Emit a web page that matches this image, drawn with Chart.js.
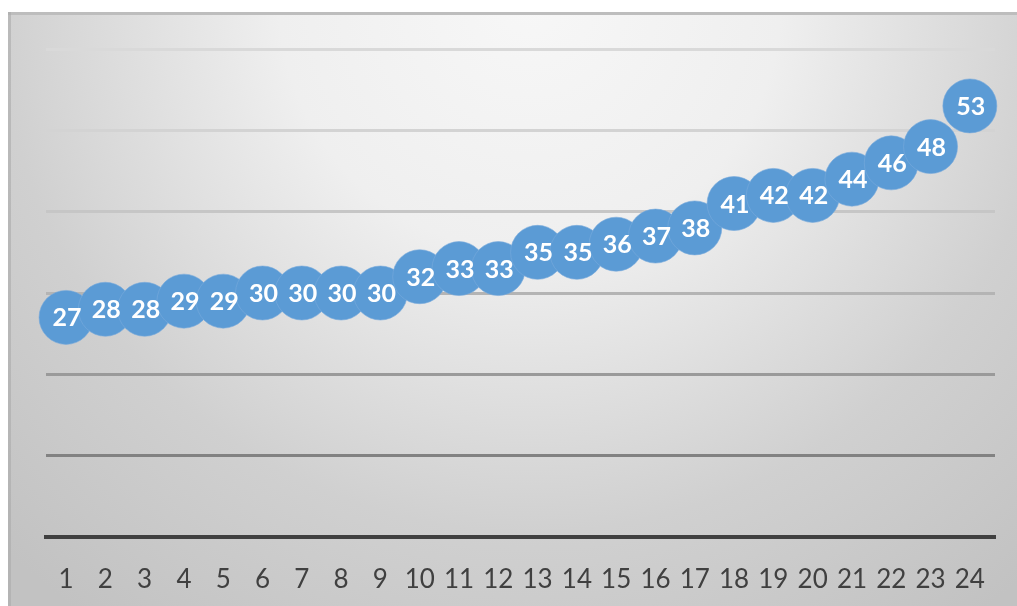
<!DOCTYPE html>
<html>
<head>
<meta charset="utf-8">
<script src="https://cdn.jsdelivr.net/npm/chart.js@4"></script>
<style>
html,body{margin:0;padding:0;background:#fff;}
#wrap{width:1017px;height:606px;position:relative;}
</style>
</head>
<body>
<div id="wrap"><canvas id="c" width="1017" height="606"></canvas></div>
<script>
const categories = ['1','2','3','4','5','6','7','8','9','10','11','12','13','14','15','16','17','18','19','20','21','22','23','24'];
const values = [27,28,28,29,29,30,30,30,30,32,33,33,35,35,36,37,38,41,42,42,44,46,48,53];
const yTicks = [0,10,20,30,40,50,60];
const gridColors = {0:'rgba(0,0,0,0)',10:'#828282',20:'#9a9a9a',30:'#b4b4b4',40:'#c6c6c6',50:'#d3d3d3',60:'#d9d9d9'};

const points = values.map((v,i)=>({x:i+1, y:v}));

const bgPlugin = {
  id:'bg',
  beforeDraw(chart){
    const ctx = chart.ctx;
    ctx.save();
    ctx.fillStyle = '#ffffff';
    ctx.fillRect(0,0,1017,606);
    const g = ctx.createRadialGradient(530,0,0,530,0,760);
    g.addColorStop(0,'#f7f7f7');
    g.addColorStop(0.33,'#efefef');
    g.addColorStop(0.7,'#d0d0d0');
    g.addColorStop(1,'#c2c2c2');
    ctx.fillStyle = g;
    ctx.fillRect(8,12,1009,594);
    ctx.fillStyle = '#bdbdbd';
    ctx.fillRect(8,12,1009,3);
    ctx.fillStyle = 'rgba(170,170,170,0.6)';
    ctx.fillRect(8,12,3,594);
    ctx.restore();
  }
};

const labelPlugin = {
  id:'vlabels',
  afterDatasetsDraw(chart){
    const ctx = chart.ctx;
    const meta = chart.getDatasetMeta(0);
    ctx.save();
    ctx.fillStyle = '#ffffff';
    ctx.font = 'bold 25px Lato';
    ctx.textAlign = 'center';
    ctx.textBaseline = 'alphabetic';
    meta.data.forEach((pt,i)=>{
      ctx.fillText(String(values[i]), pt.x + 1, pt.y + 9);
    });
    ctx.restore();
  }
};

new Chart(document.getElementById('c'), {
  type:'line',
  data:{
    datasets:[{
      data: points,
      showLine:false,
      pointRadius:27,
      pointHoverRadius:27,
      pointBackgroundColor:'#5B9BD5',
      pointBorderColor:'rgba(120,170,220,0.6)',
      pointBorderWidth:1,
      clip:false
    }]
  },
  options:{
    responsive:false,
    animation:false,
    events:[],
    layout:{autoPadding:false,padding:{left:46,right:22,top:49,bottom:0}},
    plugins:{legend:{display:false},tooltip:{enabled:false}},
    scales:{
      x:{
        type:'linear',
        min:0.49,
        max:24.64,
        afterBuildTicks(s){ s.ticks = categories.map((c,i)=>({value:i+1})); },
        grid:{display:false},
        border:{display:true,color:'#404040',width:4},
        ticks:{color:'#404040',font:{family:'Lato',size:26},padding:19,maxRotation:0,autoSkip:false,
               callback:(v)=> categories[Math.round(v)-1]},
        afterFit(s){ s.height = 69; s.paddingLeft = 0; s.paddingRight = 0; }
      },
      y:{
        min:0,max:60,
        afterBuildTicks(s){ s.ticks = yTicks.map(v=>({value:v})); },
        ticks:{display:false},
        border:{display:false},
        grid:{
          drawTicks:false,
          lineWidth:3,
          color:(c)=> gridColors[c.tick ? c.tick.value : 0] || '#cccccc'
        },
        afterFit(s){ s.width = 0; s.paddingTop = 0; s.paddingBottom = 0; }
      }
    }
  },
  plugins:[bgPlugin,labelPlugin]
});
</script>
</body>
</html>
